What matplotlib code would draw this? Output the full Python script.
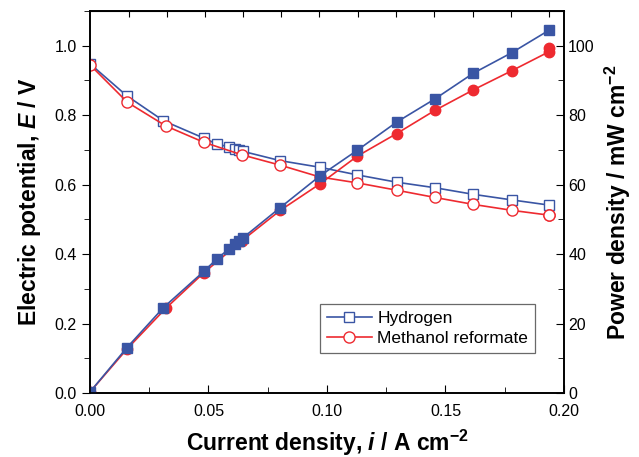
import matplotlib.pyplot as plt
from matplotlib.ticker import MultipleLocator
from matplotlib.lines import Line2D

plt.rcParams['font.family'] = ['Liberation Sans', 'DejaVu Sans']
plt.rcParams['mathtext.fontset'] = 'custom'
plt.rcParams['mathtext.rm'] = 'Liberation Sans'
plt.rcParams['mathtext.bf'] = 'Liberation Sans:bold'
plt.rcParams['mathtext.it'] = 'Liberation Sans:italic'
plt.rcParams['mathtext.bfit'] = 'Liberation Sans:italic:bold'

# hydrogen
h2_i = [0.0, 0.0155, 0.031, 0.048, 0.0535, 0.0585, 0.061, 0.0627, 0.0644,
        0.0803, 0.097, 0.1128, 0.1294, 0.1456, 0.1618, 0.178, 0.1938]
h2_E = [0.948, 0.856, 0.784, 0.734, 0.717, 0.709, 0.704, 0.701, 0.696,
        0.669, 0.650, 0.628, 0.607, 0.591, 0.572, 0.556, 0.541]
h2_P = [0.3, 13.0, 24.6, 35.0, 38.6, 41.4, 42.9, 43.9, 44.6,
        53.4, 62.5, 69.9, 78.0, 84.7, 92.1, 98.0, 104.5]

# methanol reformate
me_i = [0.0, 0.0158, 0.032, 0.048, 0.064, 0.0803, 0.097, 0.1128, 0.1294,
        0.1456, 0.1618, 0.178, 0.1938, 0.1938]
me_E = [0.945, 0.837, 0.769, 0.722, 0.686, 0.656, 0.622, 0.605, 0.584,
        0.563, 0.543, 0.526, 0.512, 0.512]
me_P = [0.3, 12.8, 24.4, 34.6, 43.8, 52.6, 60.2, 68.2, 74.7,
        81.4, 87.3, 92.8, 98.3, 99.2]

top_ticks = [0.0165, 0.0325, 0.0485, 0.0646, 0.0806, 0.0966, 0.1131,
             0.1291, 0.1451, 0.1616, 0.1776, 0.1937]

blue = '#3a55a4'
red = '#ee2a30'

fig = plt.figure(figsize=(6.39, 4.57), dpi=100)
ax = fig.add_axes([0.1408, 0.140, 0.7418, 0.836])
ax2 = ax.twinx()

ax.plot(h2_i, h2_E, color=blue, lw=1.2, marker='s', ms=6.5, mfc='white',
        mec=blue, mew=1.0)
ax.plot(me_i, me_E, color=red, lw=1.2, marker='o', ms=8, mfc='white',
        mec=red, mew=1.0)
ax2.plot(me_i, me_P, color=red, lw=1.2, marker='o', ms=7.5, mfc=red, mec=red)
ax2.plot(h2_i, h2_P, color=blue, lw=1.2, marker='s', ms=6.5, mfc=blue, mec=blue)

ax.set_xlim(0, 0.2)
ax.set_ylim(0, 1.1)
ax2.set_ylim(0, 110)

ax.xaxis.set_major_locator(MultipleLocator(0.05))
ax.xaxis.set_minor_locator(MultipleLocator(0.025))
ax.yaxis.set_major_locator(MultipleLocator(0.2))
ax.yaxis.set_minor_locator(MultipleLocator(0.1))
ax2.yaxis.set_major_locator(MultipleLocator(20))
ax2.yaxis.set_minor_locator(MultipleLocator(10))
ax.xaxis.set_major_formatter(plt.FuncFormatter(lambda v, p: f'{v:.2f}'))
ax.yaxis.set_major_formatter(plt.FuncFormatter(lambda v, p: f'{v:.1f}'))

ax.tick_params(axis='y', which='both', direction='out', labelsize=11.5)
ax.tick_params(axis='y', which='major', length=6)
ax.tick_params(axis='y', which='minor', length=4)
ax.tick_params(axis='x', which='both', direction='in', labelsize=11.5, pad=8)
ax.tick_params(axis='x', which='major', length=6)
ax.tick_params(axis='x', which='minor', length=4)
ax2.tick_params(axis='y', which='both', direction='in', labelsize=11.5, pad=3)
ax2.tick_params(axis='y', which='major', length=6)
ax2.tick_params(axis='y', which='minor', length=4)

top = ax.secondary_xaxis('top')
top.set_xticks(top_ticks)
top.tick_params(direction='in', length=4, labeltop=False)

for a in (ax, ax2):
    for s in a.spines.values():
        s.set_linewidth(1.2)

ax.set_xlabel(r'Current density, $\mathbfit{i}$ / A cm$^{\mathbf{-2}}$',
              fontsize=16.5, fontweight='bold', labelpad=6)
ax.set_ylabel(r'Electric potential, $\mathbfit{E}$ / V',
              fontsize=16.5, fontweight='bold', labelpad=8)
ax2.set_ylabel(r'Power density / mW cm$^{\mathbf{-2}}$',
               fontsize=16.5, fontweight='bold', labelpad=6)

handles = [Line2D([], [], color=blue, lw=1.2, marker='s', ms=7, mfc='white', mec=blue),
           Line2D([], [], color=red, lw=1.2, marker='o', ms=8, mfc='white', mec=red)]
leg = ax2.legend(handles, ['Hydrogen', 'Methanol reformate'], loc='lower left',
                 bbox_to_anchor=(0.485, 0.105), borderaxespad=0, fontsize=12.5,
                 fancybox=False, edgecolor='#444444', handlelength=2.6,
                 handletextpad=0.3, labelspacing=0.25, borderpad=0.4)
leg.get_frame().set_linewidth(0.9)

fig.savefig('out.png', dpi=100)
